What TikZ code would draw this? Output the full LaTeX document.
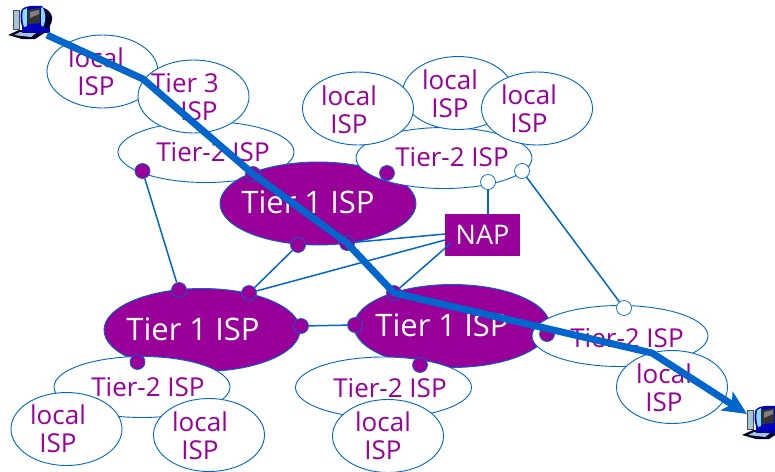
\documentclass[tikz,border=0pt]{standalone}
\usepackage{fontspec}
\setmainfont{Open Sans}
\usetikzlibrary{shapes.geometric,arrows.meta}
\definecolor{ispPurple}{RGB}{153,0,153}
\definecolor{ispBlue}{RGB}{0,102,204}
\tikzset{
	isp node/.style={ellipse, draw=ispBlue, fill=white, inner sep=0pt, line width=0.9pt, minimum width=111pt, minimum height=73pt},
	tier two/.style={isp node, minimum width=176pt, minimum height=61pt},
	tier one/.style={ellipse, draw=ispBlue, fill=ispPurple, inner sep=0pt, line width=0.9pt, minimum width=196pt, minimum height=83pt},
	isp text/.style={text=ispPurple, font=\fontsize{26}{28}\selectfont, align=center, inner sep=0pt},
	top text/.style={text=white, font=\fontsize{31}{32}\selectfont, align=center, inner sep=0pt},
	full dot/.style={circle, draw=ispBlue, fill=ispPurple, inner sep=0pt, line width=0.7pt, minimum size=15pt},
	open dot/.style={circle, draw=ispBlue, fill=white, inner sep=0pt, line width=0.7pt, minimum size=15pt},
	link/.style={draw=ispBlue, line width=1.5pt},
	computer/.pic={
		\fill[black!85!blue] (0,30) -- (11,25) -- (38,25) -- (38,27) -- (27,34) -- (14,34) -- cycle;
		\fill[cyan!40!gray!60] (6,30) -- (12,27) -- (28,28) -- (23,32) -- cycle;
		\fill[cyan!40!gray!60] (5,5) rectangle (11,24);
		\draw[black!70, line width=0.4pt] (5,5) rectangle (11,24);
		\fill[blue!70!black] (14,21) rectangle (42,28);
		\fill[black!85!blue] (36,3) .. controls (46,7) and (46,17) .. (40,23) -- (32,23) -- (32,3) -- cycle;
		\fill[blue!75!black] (13,6) .. controls (14,2) and (22,0) .. (34,1) .. controls (39,6) and (39,18) .. (35,23) -- (16,24) .. controls (12,20) and (12,12) .. (13,6) -- cycle;
		\fill[cyan!45!white] (15,5) -- (19,3) -- (19,21) -- (16,22) .. controls (14,17) and (14,10) .. (15,5) -- cycle;
		\fill[cyan!45!white] (34,2) .. controls (38,6) and (38,17) .. (35,22) -- (33,20) -- (33,3) -- cycle;
		\fill[black!80] (19,5) -- (32,3) -- (32,18) -- (20,19) -- cycle;
		\fill[gray] (22,7) -- (31,5) -- (31,9) -- (22,13) -- cycle;
	}
}
\begin{document}
\begin{tikzpicture}[x=1pt, y=-1pt, >={Stealth[length=24pt, width=22pt, inset=6pt]}]
	\useasboundingbox (0,0) rectangle (775,471);
	% upper left group
	\node[tier two] (T2a) at (206,152) {};
	\node[isp text] (T2aText) at (213,152) {Tier-2 ISP};
	\node[isp node] (L1) at (102.5,71.5) {};
	\node[isp text] (L1Text) at (96,72) {local\\ISP};
	\node[isp node] (T3) at (193.5,96.5) {};
	\node[isp text] (T3Text) at (185,97) {Tier 3\\\hspace*{28pt}ISP};
	\node[tier one] (T1a) at (318,203.5) {};
	\node[top text] (T1aText) at (308,202) {Tier 1 ISP};
	% upper right group
	\node[tier two] (T2b) at (444,158) {};
	\node[isp text] (T2bText) at (452,157) {Tier-2 ISP};
	\node[isp node] (L3) at (458,93) {};
	\node[isp text] (L3Text) at (450,94) {local\\ISP};
	\node[isp node] (L2) at (358,108.5) {};
	\node[isp text] (L2Text) at (349,110) {local\\ISP};
	\node[isp node] (L4) at (537,108.5) {};
	\node[isp text] (L4Text) at (529,109) {local\\ISP};
	% lower groups
	\node[tier one] (T1b) at (202,330) {};
	\node[top text] (T1bText) at (193,329) {Tier 1 ISP};
	\node[tier one] (T1c) at (452,326) {};
	\node[top text] (T1cText) at (442,325) {Tier 1 ISP};
	\node[tier two] (T2c) at (142,387) {};
	\node[isp text] (T2cText) at (148,387) {Tier-2 ISP};
	\node[isp node] (L5) at (66.5,429) {};
	\node[isp text] (L5Text) at (58,429) {local\\ISP};
	\node[isp node] (L6) at (209,435) {};
	\node[isp text] (L6Text) at (200,436) {local\\ISP};
	\node[tier two] (T2d) at (383.5,387.5) {};
	\node[isp text] (T2dText) at (390,388) {Tier-2 ISP};
	\node[isp node] (L7) at (388,436) {};
	\node[isp text] (L7Text) at (383,436) {local\\ISP};
	\node[tier two] (T2e) at (620,336) {};
	\node[isp text] (T2eText) at (627,338) {Tier-2 ISP};
	\node[isp node] (L8) at (672,387) {};
	\node[isp text] (L8Text) at (664,388) {local\\ISP};
	\node[fill=ispPurple, minimum width=75pt, minimum height=42pt, inner sep=0pt, text=white, font=\fontsize{27}{30}\selectfont] (NAP) at (482.5,235) {NAP};
	% peering points
	\node[full dot] (Da) at (142.5,171) {};
	\node[full dot] (Db) at (253,174) {};
	\node[full dot] (Dc) at (387,173) {};
	\node[full dot] (Dd) at (298,245) {};
	\node[full dot] (De) at (347,243) {};
	\node[full dot] (Df) at (179,290) {};
	\node[full dot] (Dg) at (249,293) {};
	\node[full dot] (Dh) at (301,326) {};
	\node[full dot] (Di) at (355,325) {};
	\node[full dot] (Dj) at (394,293) {};
	\node[full dot] (Dk) at (137.5,362) {};
	\node[full dot] (Dl) at (420,365) {};
	\node[full dot] (Dm) at (547,334) {};
	\node[open dot] (Dn) at (488,182) {};
	\node[open dot] (Do) at (522,171) {};
	\node[open dot] (Dp) at (624,308) {};
	% links
	\coordinate (NAPa) at (445,234);
	\coordinate (NAPb) at (445,240);
	\coordinate (NAPc) at (451,243);
	\draw[link] (Da) -- (Df);
	\draw[link] (Dg) -- (Dd);
	\draw[link] (Dg) -- (NAPb);
	\draw[link] (De) -- (NAPa);
	\draw[link] (Dj) -- (NAPc);
	\draw[link] (Dn) -- (Dn |- NAP.north);
	\draw[link] (Do) -- (Dp);
	\draw[link] (Dh) -- (Di);
	% computers and the route between them
	\pic (PCa) at (8,5) {computer};
	\pic (PCb) at (742,405) {computer};
	\coordinate (Ra) at (47,35);
	\coordinate (Rb) at (143,79);
	\coordinate (Rc) at (652,353);
	\coordinate (Rd) at (747,414);
	\draw[->, draw=ispBlue, line width=7pt, line join=round] (Ra) -- (Rb) -- (Db.center) -- (De.center) -- (Dj.center) -- (Rc) -- (Rd);
\end{tikzpicture}
\end{document}
